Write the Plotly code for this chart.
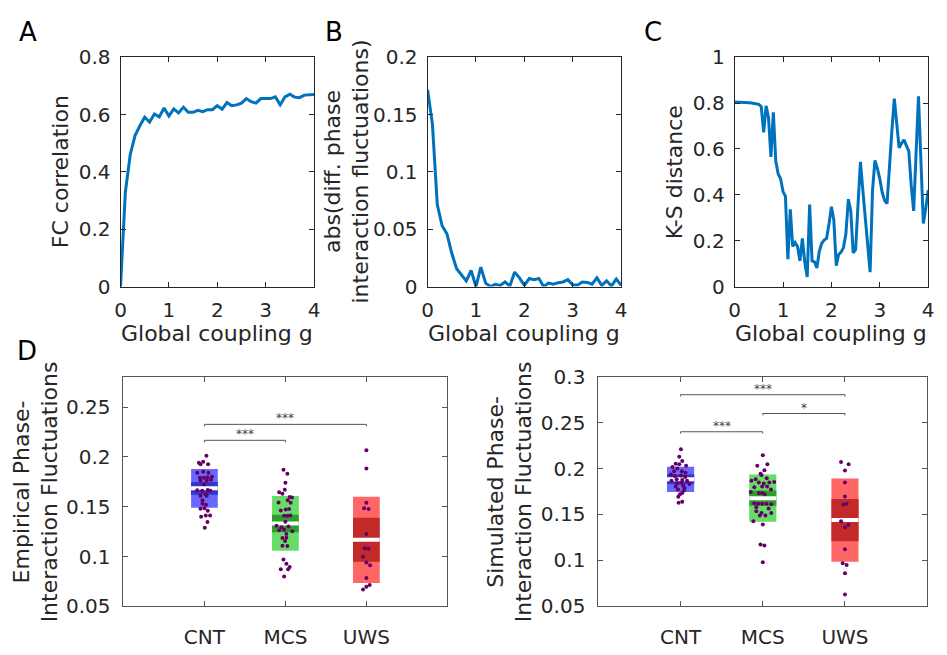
import plotly.graph_objects as go

W, H = 947, 655
FONT = "DejaVu Sans"
TXT = "#262626"
LINE_BLUE = "#0072BD"

# ---------------- data: panels A-C ----------------
g_ab = [0.0, 0.1, 0.2, 0.3, 0.4, 0.5, 0.6, 0.7, 0.8, 0.9, 1.0, 1.1, 1.2, 1.3, 1.4, 1.5,
        1.6, 1.7, 1.8, 1.9, 2.0, 2.1, 2.2, 2.3, 2.4, 2.5, 2.6, 2.7, 2.8, 2.9, 3.0, 3.1,
        3.2, 3.3, 3.4, 3.5, 3.6, 3.7, 3.8, 3.9, 4.0]
fc_corr = [0.0, 0.33, 0.46, 0.527, 0.561, 0.591, 0.574, 0.602, 0.592, 0.623, 0.595, 0.62,
           0.606, 0.626, 0.608, 0.608, 0.615, 0.61, 0.617, 0.617, 0.631, 0.619, 0.642, 0.631,
           0.634, 0.64, 0.656, 0.645, 0.64, 0.656, 0.656, 0.656, 0.662, 0.634, 0.662, 0.671,
           0.661, 0.659, 0.668, 0.668, 0.67]
phase_diff = [0.1717, 0.1416, 0.0715, 0.053, 0.046, 0.029, 0.0155, 0.01, 0.005, 0.014, 0.0,
              0.017, 0.003, 0.0, 0.002, 0.001, 0.004, 0.0005, 0.0126, 0.0076, 0.001, 0.007,
              0.006, 0.007, 0.0, 0.003, 0.002, 0.0034, 0.004, 0.006, 0.0014, 0.0014, 0.004,
              0.0036, 0.002, 0.0076, 0.001, 0.005, 0.0005, 0.0065, 0.001]
g_c = [0.0, 0.05, 0.1, 0.15, 0.2, 0.25, 0.3, 0.35, 0.4, 0.45, 0.5, 0.55, 0.6, 0.65, 0.7, 0.75,
       0.8, 0.85, 0.9, 0.95, 1.0, 1.05, 1.1, 1.15, 1.2, 1.25, 1.3, 1.35, 1.4, 1.45, 1.5, 1.55,
       1.6, 1.65, 1.7, 1.75, 1.8, 1.85, 1.9, 1.95, 2.0, 2.05, 2.1, 2.15, 2.2, 2.25, 2.3, 2.35,
       2.4, 2.45, 2.5, 2.55, 2.6, 2.65, 2.7, 2.75, 2.8, 2.85, 2.9, 2.95, 3.0, 3.05, 3.1, 3.15,
       3.2, 3.25, 3.3, 3.35, 3.4, 3.45, 3.5, 3.55, 3.6, 3.65, 3.7, 3.75, 3.8, 3.85, 3.9, 3.95, 4.0]
ks_dist = [0.805, 0.805, 0.805, 0.804, 0.804, 0.803, 0.802, 0.801, 0.80, 0.798, 0.795, 0.785,
           0.673, 0.788, 0.736, 0.565, 0.76, 0.547, 0.491, 0.47, 0.414, 0.393, 0.119, 0.337,
           0.175, 0.192, 0.175, 0.112, 0.21, 0.105, 0.042, 0.358, 0.112, 0.108, 0.081, 0.154,
           0.189, 0.203, 0.21, 0.273, 0.348, 0.29, 0.091, 0.14, 0.15, 0.17, 0.231, 0.381,
           0.33, 0.147, 0.161, 0.358, 0.544, 0.42, 0.30, 0.18, 0.063, 0.42, 0.55, 0.515,
           0.47, 0.41, 0.375, 0.362, 0.50, 0.68, 0.82, 0.70, 0.605, 0.625, 0.64, 0.615,
           0.59, 0.44, 0.33, 0.58, 0.83, 0.55, 0.275, 0.34, 0.42]

# ---------------- data: panel D ----------------
groups = ["CNT", "MCS", "UWS"]
group_pos = [1, 2, 3]
light_cols = ["#6868FF", "#66DD66", "#FF6666"]
dark_cols = ["#3535CC", "#2E9E2E", "#C22A2A"]

emp_mean = [0.1684, 0.1332, 0.1168]
emp_sd = [0.0195, 0.0275, 0.0433]
emp_sem = [0.0063, 0.0088, 0.0221]
sim_mean = [0.1882, 0.1677, 0.1438]
sim_sd = [0.0137, 0.0258, 0.0454]
sim_sem = [0.0054, 0.0084, 0.0231]

emp_cnt = [0.201, 0.194, 0.195, 0.1925, 0.1925, 0.184, 0.185, 0.184, 0.179, 0.179, 0.1796,
           0.180, 0.1764, 0.1764, 0.177, 0.1725, 0.1664, 0.166, 0.1667, 0.166, 0.1626, 0.161,
           0.161, 0.1564, 0.153, 0.152, 0.148, 0.1484, 0.146, 0.140, 0.1413, 0.1413, 0.1346, 0.129]
emp_cnt_jit = [0.024, -0.069, -0.016, -0.049, 0.045, -0.089, -0.016, 0.049, -0.057, -0.008, 0.037,
               0.093, -0.049, 0.028, 0.081, -0.004, -0.089, -0.028, 0.041, 0.073, 0.016, -0.049,
               0.028, -0.024, -0.024, 0.020, -0.049, 0.0, 0.041, -0.041, 0.016, 0.069, 0.037, 0.004]
emp_mcs = [0.187, 0.1831, 0.1741, 0.1671, 0.1645, 0.1629, 0.1597, 0.1593, 0.1542, 0.1564, 0.1539,
           0.1462, 0.1471, 0.1478, 0.1410, 0.1410, 0.1413, 0.1349, 0.1310, 0.1294, 0.1301, 0.1265,
           0.1269, 0.1227, 0.1253, 0.1185, 0.1188, 0.1156, 0.1108, 0.1105, 0.0970, 0.0928, 0.0896,
           0.0873, 0.0873, 0.0799]
emp_mcs_jit = [-0.024, 0.024, 0.0, -0.008, -0.077, -0.037, 0.053, 0.081, -0.085, 0.028, 0.065,
               -0.057, 0.004, 0.045, -0.016, 0.024, 0.061, 0.0, -0.110, -0.049, 0.037, -0.077,
               -0.016, 0.012, 0.085, -0.037, 0.012, -0.004, -0.037, 0.024, -0.024, 0.012, 0.053,
               -0.057, 0.033, -0.016]
emp_uws = [0.2066, 0.1883, 0.1539, 0.1484, 0.1478, 0.1227, 0.1082, 0.1079, 0.0998, 0.0941,
           0.0912, 0.0786, 0.0715, 0.0696, 0.0670]
emp_uws_jit = [0.0, 0.0, 0.0, -0.028, 0.028, 0.0, -0.020, 0.028, -0.041, 0.0, 0.045, 0.0,
               0.041, 0.0, -0.041]

sim_cnt = [0.2209, 0.2128, 0.2083, 0.2051, 0.2048, 0.2030, 0.2017, 0.1999, 0.1971, 0.1936,
           0.1925, 0.1918, 0.1908, 0.1883, 0.1876, 0.1866, 0.1845, 0.1838, 0.1831, 0.1813,
           0.1803, 0.1789, 0.1771, 0.1733, 0.1719, 0.1691, 0.1639, 0.1628, 0.1971, 0.1954,
           0.1866, 0.1761]
sim_cnt_jit = [0.004, -0.016, 0.020, -0.060, -0.016, 0.067, -0.099, -0.040, 0.016, -0.119,
               0.004, -0.071, 0.056, -0.048, 0.020, 0.079, 0.008, -0.040, 0.107, 0.032,
               -0.060, 0.048, -0.032, 0.020, -0.008, -0.028, 0.020, -0.024, -0.079, 0.060,
               -0.111, 0.040]
sim_mcs = [0.2146, 0.2030, 0.2048, 0.1981, 0.1943, 0.1929, 0.1883, 0.1894, 0.1866, 0.1849,
           0.1838, 0.1849, 0.1852, 0.1796, 0.1803, 0.1803, 0.1733, 0.1733, 0.1719, 0.1771,
           0.1744, 0.1621, 0.1617, 0.1617, 0.1617, 0.1610, 0.1579, 0.1565, 0.1534, 0.1516,
           0.1516, 0.1487, 0.1487, 0.1424, 0.1390, 0.1172, 0.1162, 0.0977]
sim_mcs_jit = [0.0, -0.067, 0.056, 0.020, -0.028, -0.016, -0.087, 0.048, -0.139, -0.048,
               0.012, 0.079, 0.139, -0.103, -0.008, 0.052, -0.048, -0.008, 0.024, 0.099,
               -0.147, -0.103, -0.056, -0.008, 0.044, 0.103, -0.079, 0.071, -0.079, -0.016,
               0.103, 0.032, -0.036, -0.115, 0.0, -0.028, 0.020, 0.0]
sim_uws = [0.2070, 0.2048, 0.1978, 0.1849, 0.1694, 0.1607, 0.1617, 0.1424, 0.1387, 0.1361,
           0.1120, 0.0966, 0.0949, 0.0857, 0.0626]
sim_uws_jit = [-0.048, 0.044, 0.0, 0.0, 0.0, -0.020, 0.020, -0.048, 0.044, 0.0, 0.0, -0.028,
               0.020, 0.0, 0.0]

# significance brackets: (group a, group b, height, label)
emp_sig = [(1, 2, 0.2166, "***"), (1, 3, 0.2326, "***")]
sim_sig = [(1, 2, 0.2401, "***"), (2, 3, 0.2600, "*"), (1, 3, 0.2805, "***")]

# ---------------- figure ----------------
fig = go.Figure()


def px_x(p):
    return p / W


def px_y(p):
    return 1 - p / H


# lines A-C
fig.add_trace(go.Scatter(x=g_ab, y=fc_corr, mode="lines", line=dict(color=LINE_BLUE, width=3),
                         xaxis="x", yaxis="y", showlegend=False, hoverinfo="skip"))
fig.add_trace(go.Scatter(x=g_ab, y=phase_diff, mode="lines", line=dict(color=LINE_BLUE, width=3),
                         xaxis="x2", yaxis="y2", showlegend=False, hoverinfo="skip"))
fig.add_trace(go.Scatter(x=g_c, y=ks_dist, mode="lines", line=dict(color=LINE_BLUE, width=3),
                         xaxis="x3", yaxis="y3", showlegend=False, hoverinfo="skip"))


def add_boxes(xa, ya, means, sds, sems, pts, jits, sigs, dsig):
    fig.add_trace(go.Bar(x=group_pos, y=[2 * s for s in sds], base=[m - s for m, s in zip(means, sds)],
                         width=0.33, marker=dict(color=light_cols, line=dict(width=0)),
                         xaxis=xa, yaxis=ya, showlegend=False, hoverinfo="skip"))
    fig.add_trace(go.Bar(x=group_pos, y=[2 * s for s in sems], base=[m - s for m, s in zip(means, sems)],
                         width=0.33, marker=dict(color=dark_cols, line=dict(width=0)),
                         xaxis=xa, yaxis=ya, showlegend=False, hoverinfo="skip"))
    mx, my = [], []
    for p, m in zip(group_pos, means):
        mx += [p - 0.165, p + 0.165, None]
        my += [m, m, None]
    fig.add_trace(go.Scatter(x=mx, y=my, mode="lines", line=dict(color="white", width=4),
                             xaxis=xa, yaxis=ya, showlegend=False, hoverinfo="skip"))
    for p, vals, jit in zip(group_pos, pts, jits):
        fig.add_trace(go.Scatter(x=[p + j for j in jit], y=vals, mode="markers",
                                 marker=dict(color="#660066", size=4),
                                 xaxis=xa, yaxis=ya, showlegend=False, hoverinfo="skip"))
    for a, b, h, lab in sigs:
        fig.add_trace(go.Scatter(x=[a, a, b, b], y=[h - dsig, h, h, h - dsig], mode="lines",
                                 line=dict(color="#555555", width=1),
                                 xaxis=xa, yaxis=ya, showlegend=False, hoverinfo="skip"))
        fig.add_annotation(x=(a + b) / 2, y=h, xref=xa, yref=ya, text=lab, showarrow=False,
                           yanchor="bottom", yshift=-3,
                           font=dict(family=FONT, size=12, color="#444444"))


add_boxes("x4", "y4", emp_mean, emp_sd, emp_sem, [emp_cnt, emp_mcs, emp_uws],
          [emp_cnt_jit, emp_mcs_jit, emp_uws_jit], emp_sig, 0.002)
add_boxes("x5", "y5", sim_mean, sim_sd, sim_sem, [sim_cnt, sim_mcs, sim_uws],
          [sim_cnt_jit, sim_mcs_jit, sim_uws_jit], sim_sig, 0.002)


def ax(domain, anchor, rng, tickvals, ticktext, lc=TXT, standoff=5):
    return dict(domain=domain, anchor=anchor, range=rng, tickvals=tickvals, ticktext=ticktext,
                showline=True, linecolor=lc, linewidth=1, mirror="ticks", ticks="inside",
                ticklen=5, tickcolor=lc, showgrid=False, zeroline=False, fixedrange=True,
                tickfont=dict(family=FONT, size=20, color=TXT), ticklabelstandoff=standoff)


xt = [0, 1, 2, 3, 4]
xtt = ["0", "1", "2", "3", "4"]
ytop = [px_y(285), px_y(47)]
fig.update_layout(
    width=W, height=H, margin=dict(l=0, r=0, t=0, b=0),
    paper_bgcolor="white", plot_bgcolor="white", barmode="overlay",
    font=dict(family=FONT, color=TXT),
    xaxis=ax([px_x(116), px_x(312)], "y", [0, 4], xt, xtt),
    yaxis=ax(ytop, "x", [0, 0.8], [0, 0.2, 0.4, 0.6, 0.8], ["0", "0.2", "0.4", "0.6", "0.8"]),
    xaxis2=ax([px_x(427), px_x(623)], "y2", [0, 4], xt, xtt),
    yaxis2=ax(ytop, "x2", [0, 0.2], [0, 0.05, 0.1, 0.15, 0.2], ["0", "0.05", "0.1", "0.15", "0.2"]),
    xaxis3=ax([px_x(738), px_x(934)], "y3", [0, 4], xt, xtt),
    yaxis3=ax(ytop, "x3", [0, 1], [0, 0.2, 0.4, 0.6, 0.8, 1], ["0", "0.2", "0.4", "0.6", "0.8", "1"]),
    xaxis4=ax([px_x(119), px_x(447)], "y4", [0, 4], group_pos, groups, "#555555", 13),
    yaxis4=ax([px_y(617), px_y(379)], "x4", [0.05, 0.28], [0.05, 0.1, 0.15, 0.2, 0.25],
              ["0.05", "0.1", "0.15", "0.2", "0.25"], "#555555", 8),
    xaxis5=ax([px_x(600), px_x(933)], "y5", [0, 4], group_pos, groups, "#555555", 13),
    yaxis5=ax([px_y(616.7), px_y(378.7)], "x5", [0.05, 0.3], [0.05, 0.1, 0.15, 0.2, 0.25, 0.3],
              ["0.05", "0.1", "0.15", "0.2", "0.25", "0.3"], "#555555", 8),
)


def ann(text, x, y, size=22, angle=0, color=TXT):
    fig.add_annotation(text=text, x=px_x(x), y=px_y(y), xref="paper", yref="paper",
                       showarrow=False, textangle=angle, xanchor="center", yanchor="middle",
                       font=dict(family=FONT, size=size, color=color))


# panel letters
ann("A", 22, 21, 26, color="black")
ann("B", 332, 21, 26, color="black")
ann("C", 655, 21, 26, color="black")
ann("D", 21, 352, 26, color="black")

# axis titles
for cx in (214, 525, 836):
    ann("Global coupling g", cx, 334)
ann("FC correlation", 56, 166, angle=-90)
ann("abs(diff. phase<br>interaction fluctuations)", 345, 166, angle=-90)
ann("K-S distance", 678, 166, angle=-90)
ann("Empirical Phase-<br>Interaction Fluctuations", 30, 498, angle=-90)
ann("Simulated Phase-<br>Interaction Fluctuations", 510, 498, angle=-90)

fig.write_html("out.html")
